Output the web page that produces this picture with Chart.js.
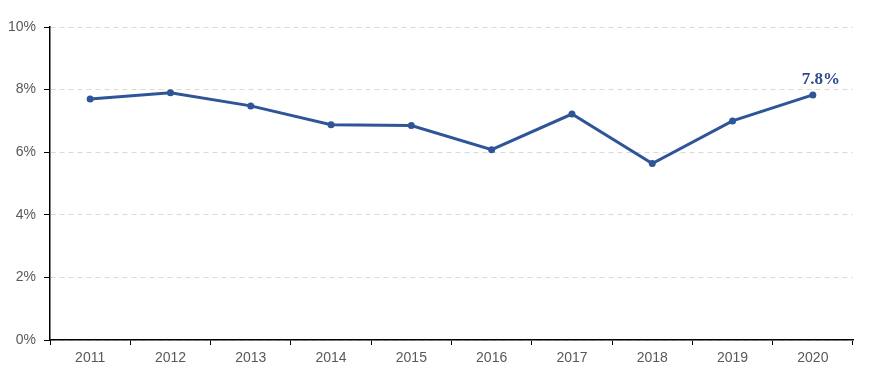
<!DOCTYPE html>
<html>
<head>
<meta charset="utf-8">
<script src="https://cdn.jsdelivr.net/npm/chart.js@4/dist/chart.umd.min.js"></script>
<style>
  html, body { margin: 0; padding: 0; background: #fff; }
  #wrap { width: 871px; height: 372px; }
</style>
</head>
<body>
<div id="wrap"><canvas id="c"></canvas></div>
<script>
  "use strict";

  // ---- data ----
  var years = ["2011", "2012", "2013", "2014", "2015", "2016", "2017", "2018", "2019", "2020"];
  var rates = [7.70, 7.90, 7.48, 6.88, 6.85, 6.08, 7.22, 5.64, 7.00, 7.83];
  var yTicks = [0, 2, 4, 6, 8, 10];
  var lastLabel = "7.8%";

  var lineColor = "#2E5597";
  var tickFont = { family: "'Liberation Sans', Arial, sans-serif", size: 14 };

  // label above the last point
  var lastLabelPlugin = {
    id: "lastLabel",
    afterDatasetsDraw: function (chart) {
      var meta = chart.getDatasetMeta(0);
      var pt = meta.data[meta.data.length - 1];
      var ctx = chart.ctx;
      ctx.save();
      ctx.font = "bold 17px 'Liberation Serif', serif";
      ctx.fillStyle = "#2F4B8C";
      ctx.textAlign = "center";
      ctx.textBaseline = "bottom";
      ctx.fillText(lastLabel, pt.x + 8, pt.y - 7);
      ctx.restore();
    }
  };

  new Chart(document.getElementById("c"), {
    type: "line",
    data: {
      labels: years,
      datasets: [{
        data: rates,
        borderColor: lineColor,
        backgroundColor: lineColor,
        borderWidth: 3,
        pointRadius: 3.5,
        pointBorderWidth: 0,
        tension: 0,
        fill: false
      }]
    },
    options: {
      responsive: true,
      maintainAspectRatio: false,
      animation: false,
      layout: { padding: { left: 0, right: 18, top: 27, bottom: 0 } },
      plugins: { legend: { display: false }, tooltip: { enabled: false } },
      scales: {
        x: {
          offset: true,
          grid: {
            offset: true,
            drawOnChartArea: false,
            tickLength: 5,
            tickColor: "#000"
          },
          border: { color: "#000", width: 1.5 },
          ticks: { color: "#595959", font: tickFont, padding: 5, maxRotation: 0 },
          afterFit: function (s) { s.height = 32; }
        },
        y: {
          min: 0,
          max: 10,
          afterBuildTicks: function (s) {
            s.ticks = yTicks.map(function (v) { return { value: v }; });
          },
          grid: {
            color: "#D9D9D9",
            tickColor: "#000",
            tickLength: 6,
            lineWidth: 1
          },
          border: { color: "#000", width: 1.5, dash: [5, 4] },
          ticks: {
            color: "#595959",
            font: tickFont,
            padding: 8,
            callback: function (v) { return v + "%"; }
          },
          afterFit: function (s) { s.width = 50; }
        }
      }
    },
    plugins: [lastLabelPlugin]
  });
</script>
</body>
</html>
